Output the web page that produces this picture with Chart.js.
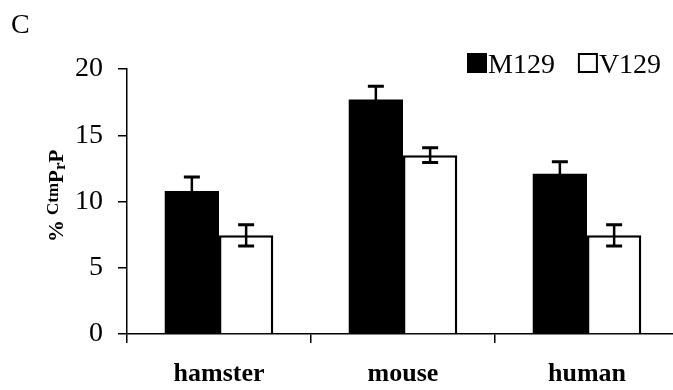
<!DOCTYPE html>
<html>
<head>
<meta charset="utf-8">
<script src="https://cdn.jsdelivr.net/npm/chart.js@4/dist/chart.umd.min.js"></script>
<style>
html,body{margin:0;padding:0;background:#fff;overflow:hidden;width:673px;height:390px;}
#wrap{width:680px;height:390px;}
</style>
</head>
<body>
<div id="wrap"><canvas id="c" width="680" height="390"></canvas></div>
<script>
// ---- data ----
const categories = ["hamster", "mouse", "human"];
const seriesNames = ["M129", "V129"];
const m129Values = [10.8, 17.7, 12.1];
const m129Errors = [1.05, 1.0, 0.9];
const v129Values = [7.45, 13.5, 7.45];
const v129Errors = [0.8, 0.55, 0.8];
const yTicks = [0, 5, 10, 15, 20];
const panelLabel = "C";

const SERIF = "'Liberation Serif', 'Times New Roman', serif";

const errorBars = {
  id: 'errorBars',
  afterDatasetsDraw(chart) {
    const ctx = chart.ctx;
    const ys = chart.scales.y;
    ctx.save();
    ctx.strokeStyle = '#000';
    chart.data.datasets.forEach((ds, di) => {
      const meta = chart.getDatasetMeta(di);
      meta.data.forEach((el, i) => {
        const v = ds.data[i], e = ds.errors[i];
        const yt = ys.getPixelForValue(v + e);
        const yb = ys.getPixelForValue(v - e);
        const x = el.x;
        ctx.lineWidth = 2.5;
        ctx.beginPath();
        ctx.moveTo(x, yt); ctx.lineTo(x, yb);
        ctx.stroke();
        ctx.lineWidth = 3;
        ctx.beginPath();
        ctx.moveTo(x - 8, yt); ctx.lineTo(x + 8, yt);
        ctx.moveTo(x - 8, yb); ctx.lineTo(x + 8, yb);
        ctx.stroke();
      });
    });
    ctx.restore();
  }
};

const decorations = {
  id: 'decorations',
  afterDraw(chart) {
    const ctx = chart.ctx;
    ctx.save();
    ctx.fillStyle = '#000';
    // panel label
    ctx.font = "28px " + SERIF;
    ctx.textBaseline = 'alphabetic';
    ctx.textAlign = 'left';
    ctx.fillText(panelLabel, 11, 33);

    // legend
    const ds = chart.data.datasets;
    ctx.font = "28px " + SERIF;
    let x = 467;
    const top = 53, box = 20, base = 73;
    ds.forEach((d, i) => {
      if (i > 0) x += 23;
      ctx.fillStyle = d.backgroundColor;
      ctx.fillRect(x, top, box, box);
      ctx.strokeStyle = '#000';
      ctx.lineWidth = 2;
      ctx.strokeRect(x + 1, top + 1, box - 2, box - 2);
      x += box + 1;
      ctx.fillStyle = '#000';
      ctx.fillText(d.label, x, base);
      x += ctx.measureText(d.label).width;
    });

    // y axis title: % CtmPrP (rotated)
    ctx.translate(63, 242);
    ctx.rotate(-Math.PI / 2);
    ctx.textBaseline = 'alphabetic';
    let tx = 0;
    const part = (t, size, dy) => {
      ctx.font = "bold " + size + "px " + SERIF;
      ctx.fillText(t, tx, dy);
      tx += ctx.measureText(t).width;
    };
    part("%", 22, 0);
    tx += 5;
    part("Ctm", 17, -5);
    part("P", 21, 0);
    part("r", 17, 2);
    part("P", 21, 0);
    ctx.restore();
  }
};

new Chart(document.getElementById('c'), {
  type: 'bar',
  data: {
    labels: categories,
    datasets: [
      { label: seriesNames[0], data: m129Values, errors: m129Errors,
        backgroundColor: '#000', borderColor: '#000', borderWidth: 0 },
      { label: seriesNames[1], data: v129Values, errors: v129Errors,
        backgroundColor: '#fff', borderColor: '#000', borderWidth: 2.5,
        borderSkipped: 'bottom' }
    ]
  },
  options: {
    responsive: false,
    animation: false,
    devicePixelRatio: 1,
    layout: { padding: { top: 69, right: 1, left: 0, bottom: 0 } },
    datasets: { bar: { categoryPercentage: 0.59, barPercentage: 1.0 } },
    plugins: { legend: { display: false }, tooltip: { enabled: false }, title: { display: false } },
    scales: {
      x: {
        afterFit(s) { s.height = 56; },
        grid: { display: true, drawOnChartArea: false, drawTicks: true, tickLength: 9,
                color: '#000', lineWidth: 1.5, offset: true },
        border: { display: true, color: '#000', width: 1.5 },
        ticks: { color: '#000', padding: 16, font: { family: SERIF, size: 26, weight: 'bold' } }
      },
      y: {
        min: 0, max: 20,
        afterFit(s) { s.width = 127; },
        afterBuildTicks(s) { s.ticks = yTicks.map(v => ({ value: v })); },
        grid: { display: true, drawOnChartArea: false, drawTicks: true, tickLength: 9,
                color: '#000', lineWidth: 1.5 },
        border: { display: true, color: '#000', width: 1.5 },
        ticks: { color: '#000', padding: 15, font: { family: SERIF, size: 28 } }
      }
    }
  },
  plugins: [errorBars, decorations]
});
</script>
</body>
</html>
